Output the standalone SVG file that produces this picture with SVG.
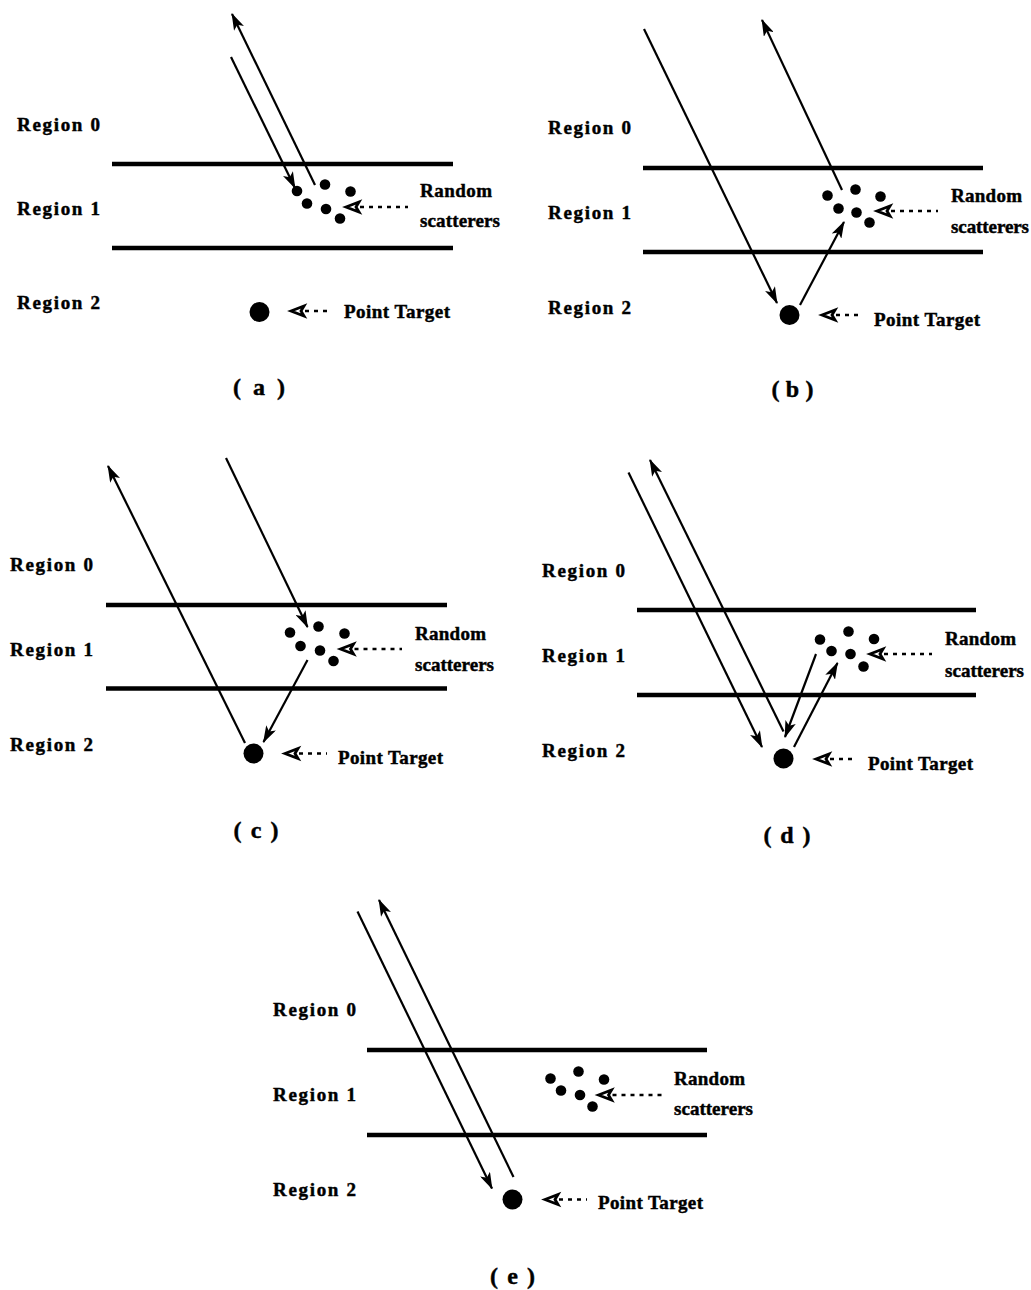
<svg xmlns="http://www.w3.org/2000/svg" xmlns:xlink="http://www.w3.org/1999/xlink" width="1031" height="1290" viewBox="0 0 1031 1290">
  <style>
    text { font-family: "Liberation Serif", "Times New Roman", serif; font-weight: bold; fill: #000; stroke: #000; stroke-width: 0.45; }
    .region { font-size: 19px; }
    .note { font-size: 19px; }
    .cap { font-size: 24px; text-anchor: middle; }
    .layer { stroke: #000; stroke-width: 4.5; }
    .ray { stroke: #000; stroke-width: 2.2; fill: none; marker-end: url(#head); }
    .dots { stroke: #000; stroke-width: 2.6; stroke-dasharray: 4 5; }
    .sc { fill: #000; }
  </style>
  <defs>
    <marker id="head" markerUnits="userSpaceOnUse" markerWidth="17" markerHeight="11" viewBox="0 0 17 11" refX="16" refY="5.5" orient="auto">
      <path d="M0,0 L17,5.5 L0,11 L4,5.5 Z" fill="#000"/>
    </marker>
    <path id="openHead" d="M0,0 L13,-5 L10,0 L13,5 Z" fill="#fff" stroke="#000" stroke-width="2.8" stroke-linejoin="miter"/>
  </defs>
  <rect width="1031" height="1290" fill="#fff"/>

  <!-- panel (a) -->
  <g id="panel-a" transform="translate(112,164)">
    <line class="layer" x1="0" y1="0" x2="341" y2="0"/>
    <line class="layer" x1="0" y1="84" x2="341" y2="84"/>
    <g id="a-region0"><text class="region" x="-95" y="-33" textLength="83" lengthAdjust="spacing">Region 0</text></g>
    <g id="a-region1"><text class="region" x="-95" y="51" textLength="83" lengthAdjust="spacing">Region 1</text></g>
    <g id="a-region2"><text class="region" x="-95" y="145" textLength="83" lengthAdjust="spacing">Region 2</text></g>
    <g id="a-scatterers">
      <circle class="sc" cx="185" cy="27" r="5.3"/><circle class="sc" cx="213" cy="20.5" r="5.3"/><circle class="sc" cx="238.5" cy="27.5" r="5.3"/>
      <circle class="sc" cx="195" cy="39.5" r="5.3"/><circle class="sc" cx="214" cy="45" r="5.3"/><circle class="sc" cx="228" cy="54.5" r="5.3"/>
      <use xlink:href="#openHead" x="234" y="43"/><line class="dots" x1="248" y1="43" x2="296" y2="43"/>
      <text class="note" x="308" y="33" textLength="72" lengthAdjust="spacing">Random</text>
      <text class="note" x="308" y="63" textLength="80" lengthAdjust="spacing">scatterers</text>
    </g>
    <g id="a-target">
      <circle class="sc" cx="147.5" cy="148" r="10"/>
      <use xlink:href="#openHead" x="179" y="147"/><line class="dots" x1="193" y1="147" x2="219" y2="147"/>
      <text class="note" x="232" y="154" textLength="106" lengthAdjust="spacing">Point Target</text>
    </g>
  </g>
  <g id="caption-a"><text class="cap" x="259" y="395" textLength="52" lengthAdjust="spacing">( a )</text></g>

  <!-- panel (b) -->
  <g id="panel-b" transform="translate(643,168)">
    <line class="layer" x1="0" y1="0" x2="340" y2="0"/>
    <line class="layer" x1="0" y1="84" x2="340" y2="84"/>
    <g id="b-region0"><text class="region" x="-95" y="-34" textLength="83" lengthAdjust="spacing">Region 0</text></g>
    <g id="b-region1"><text class="region" x="-95" y="51" textLength="83" lengthAdjust="spacing">Region 1</text></g>
    <g id="b-region2"><text class="region" x="-95" y="146" textLength="83" lengthAdjust="spacing">Region 2</text></g>
    <g id="b-scatterers">
      <circle class="sc" cx="184.5" cy="27.5" r="5.3"/><circle class="sc" cx="212.5" cy="21.5" r="5.3"/><circle class="sc" cx="237.5" cy="28.5" r="5.3"/>
      <circle class="sc" cx="195.5" cy="40.5" r="5.3"/><circle class="sc" cx="213.5" cy="44.5" r="5.3"/><circle class="sc" cx="226.5" cy="54.5" r="5.3"/>
      <use xlink:href="#openHead" x="234" y="43"/><line class="dots" x1="248" y1="43" x2="295" y2="43"/>
      <text class="note" x="308" y="34" textLength="71" lengthAdjust="spacing">Random</text>
      <text class="note" x="308" y="65" textLength="78" lengthAdjust="spacing">scatterers</text>
    </g>
    <g id="b-target">
      <circle class="sc" cx="146.5" cy="147" r="10"/>
      <use xlink:href="#openHead" x="179" y="147"/><line class="dots" x1="193" y1="147" x2="219" y2="147"/>
      <text class="note" x="231" y="158" textLength="106" lengthAdjust="spacing">Point Target</text>
    </g>
  </g>
  <g id="caption-b"><text class="cap" x="792.5" y="397" textLength="42" lengthAdjust="spacing">( b )</text></g>

  <!-- panel (c) -->
  <g id="panel-c" transform="translate(106,605)">
    <line class="layer" x1="0" y1="0" x2="341" y2="0"/>
    <line class="layer" x1="0" y1="83.5" x2="341" y2="83.5"/>
    <g id="c-region0"><text class="region" x="-96" y="-34" textLength="83" lengthAdjust="spacing">Region 0</text></g>
    <g id="c-region1"><text class="region" x="-96" y="51" textLength="83" lengthAdjust="spacing">Region 1</text></g>
    <g id="c-region2"><text class="region" x="-96" y="146" textLength="83" lengthAdjust="spacing">Region 2</text></g>
    <g id="c-scatterers">
      <circle class="sc" cx="184" cy="27.5" r="5.3"/><circle class="sc" cx="212.5" cy="21.5" r="5.3"/><circle class="sc" cx="238.5" cy="28.5" r="5.3"/>
      <circle class="sc" cx="194.5" cy="41" r="5.3"/><circle class="sc" cx="214" cy="45.5" r="5.3"/><circle class="sc" cx="227.5" cy="56" r="5.3"/>
      <use xlink:href="#openHead" x="234.5" y="44"/><line class="dots" x1="248.5" y1="44" x2="296" y2="44"/>
      <text class="note" x="309" y="35" textLength="71" lengthAdjust="spacing">Random</text>
      <text class="note" x="309" y="66" textLength="79" lengthAdjust="spacing">scatterers</text>
    </g>
    <g id="c-target">
      <circle class="sc" cx="147.5" cy="148.5" r="10"/>
      <use xlink:href="#openHead" x="179" y="148.5"/><line class="dots" x1="193" y1="148.5" x2="221" y2="148.5"/>
      <text class="note" x="232" y="159" textLength="105" lengthAdjust="spacing">Point Target</text>
    </g>
  </g>
  <g id="caption-c"><text class="cap" x="256" y="838" textLength="45" lengthAdjust="spacing">( c )</text></g>

  <!-- panel (d) -->
  <g id="panel-d" transform="translate(637,610)">
    <line class="layer" x1="0" y1="0" x2="339" y2="0"/>
    <line class="layer" x1="0" y1="85" x2="339" y2="85"/>
    <g id="d-region0"><text class="region" x="-95" y="-33" textLength="83" lengthAdjust="spacing">Region 0</text></g>
    <g id="d-region1"><text class="region" x="-95" y="52" textLength="83" lengthAdjust="spacing">Region 1</text></g>
    <g id="d-region2"><text class="region" x="-95" y="147" textLength="83" lengthAdjust="spacing">Region 2</text></g>
    <g id="d-scatterers">
      <circle class="sc" cx="183" cy="29.5" r="5.3"/><circle class="sc" cx="211.5" cy="21.5" r="5.3"/><circle class="sc" cx="237" cy="29" r="5.3"/>
      <circle class="sc" cx="194.5" cy="41" r="5.3"/><circle class="sc" cx="213.5" cy="44" r="5.3"/><circle class="sc" cx="226.5" cy="56.5" r="5.3"/>
      <use xlink:href="#openHead" x="233" y="44"/><line class="dots" x1="247" y1="44" x2="295" y2="44"/>
      <text class="note" x="308" y="35" textLength="71" lengthAdjust="spacing">Random</text>
      <text class="note" x="308" y="66.5" textLength="79" lengthAdjust="spacing">scatterers</text>
    </g>
    <g id="d-target">
      <circle class="sc" cx="146.5" cy="148.5" r="10"/>
      <use xlink:href="#openHead" x="179" y="149"/><line class="dots" x1="193" y1="149" x2="220" y2="149"/>
      <text class="note" x="231" y="160" textLength="105" lengthAdjust="spacing">Point Target</text>
    </g>
  </g>
  <g id="caption-d"><text class="cap" x="787" y="843" textLength="47" lengthAdjust="spacing">( d )</text></g>

  <!-- panel (e) -->
  <g id="panel-e" transform="translate(367,1050)">
    <line class="layer" x1="0" y1="0" x2="340" y2="0"/>
    <line class="layer" x1="0" y1="85" x2="340" y2="85"/>
    <g id="e-region0"><text class="region" x="-94" y="-34" textLength="83" lengthAdjust="spacing">Region 0</text></g>
    <g id="e-region1"><text class="region" x="-94" y="51" textLength="83" lengthAdjust="spacing">Region 1</text></g>
    <g id="e-region2"><text class="region" x="-94" y="146" textLength="83" lengthAdjust="spacing">Region 2</text></g>
    <g id="e-scatterers">
      <circle class="sc" cx="183.5" cy="28.5" r="5.3"/><circle class="sc" cx="211.5" cy="21.5" r="5.3"/><circle class="sc" cx="237" cy="29.5" r="5.3"/>
      <circle class="sc" cx="194" cy="40.5" r="5.3"/><circle class="sc" cx="213" cy="45" r="5.3"/><circle class="sc" cx="225.5" cy="56.5" r="5.3"/>
      <use xlink:href="#openHead" x="231.5" y="45"/><line class="dots" x1="245.5" y1="45" x2="295" y2="45"/>
      <text class="note" x="307" y="35" textLength="71" lengthAdjust="spacing">Random</text>
      <text class="note" x="307" y="65" textLength="79" lengthAdjust="spacing">scatterers</text>
    </g>
    <g id="e-target">
      <circle class="sc" cx="145.5" cy="149.5" r="10"/>
      <use xlink:href="#openHead" x="178" y="149.5"/><line class="dots" x1="192" y1="149.5" x2="220" y2="149.5"/>
      <text class="note" x="231" y="158.5" textLength="105" lengthAdjust="spacing">Point Target</text>
    </g>
  </g>
  <g id="caption-e"><text class="cap" x="512.5" y="1284" textLength="45" lengthAdjust="spacing">( e )</text></g>

  <!-- wave paths -->
  <g id="connectors">
    <!-- (a) -->
    <line class="ray" x1="231" y1="57" x2="295" y2="188"/>
    <line class="ray" x1="315" y1="185" x2="232" y2="14"/>
    <!-- (b) -->
    <line class="ray" x1="644" y1="29" x2="777" y2="303"/>
    <line class="ray" x1="800" y1="305" x2="844" y2="222"/>
    <line class="ray" x1="842" y1="190" x2="762" y2="20"/>
    <!-- (c) -->
    <line class="ray" x1="245" y1="743" x2="108" y2="466"/>
    <line class="ray" x1="226" y1="458" x2="307.5" y2="627"/>
    <line class="ray" x1="307.5" y1="660" x2="263.5" y2="742"/>
    <!-- (d) -->
    <line class="ray" x1="628.5" y1="472.5" x2="762" y2="747"/>
    <line class="ray" x1="783.5" y1="731.5" x2="650" y2="460"/>
    <line class="ray" x1="816" y1="654" x2="785" y2="737"/>
    <line class="ray" x1="794" y1="747" x2="837.5" y2="663"/>
    <!-- (e) -->
    <line class="ray" x1="357.5" y1="911.5" x2="492" y2="1188.5"/>
    <line class="ray" x1="513.5" y1="1177" x2="379" y2="900"/>
  </g>
</svg>
